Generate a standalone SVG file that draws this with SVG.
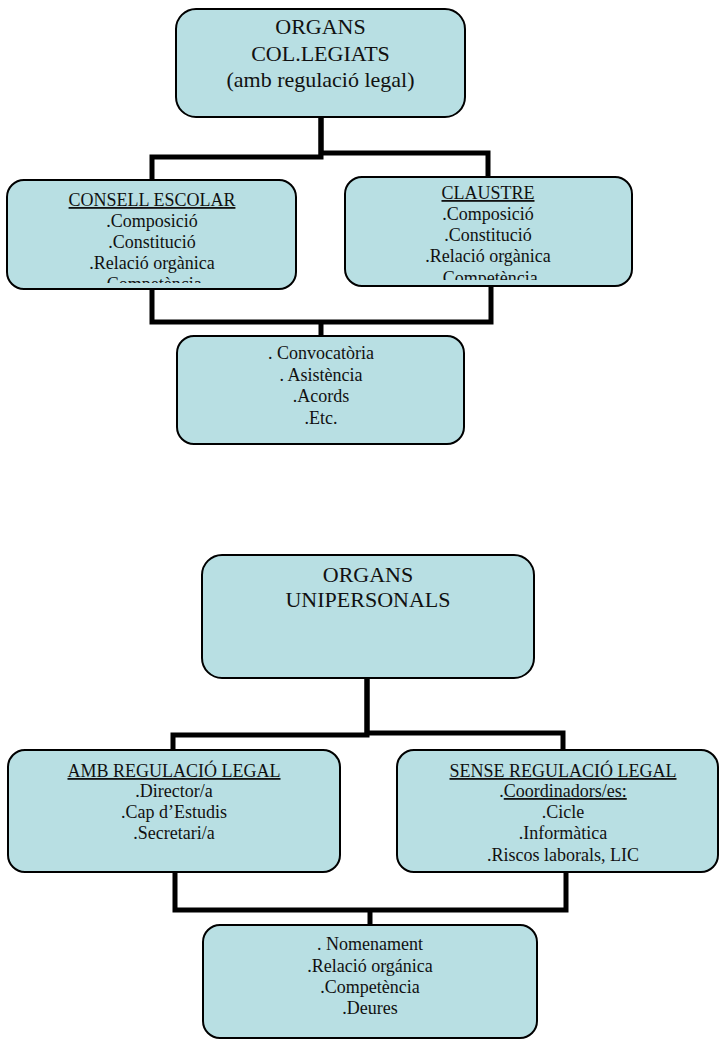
<svg xmlns="http://www.w3.org/2000/svg" width="721" height="1044" viewBox="0 0 721 1044">
<style>
.box{fill:#b8dfe3;stroke:#000;stroke-width:2}
.t{font-family:"Liberation Serif","Times New Roman",serif;font-size:18px;fill:#111;text-anchor:middle}
.big{font-size:22px}
.u{text-decoration:underline;text-decoration-thickness:1.6px}
.c{fill:none;stroke:#000;stroke-width:5;stroke-linejoin:miter;stroke-linecap:butt}
</style>
<defs>
<clipPath id="clipA"><rect x="7" y="180" width="289" height="103"/></clipPath>
<clipPath id="clipB"><rect x="345" y="177" width="287" height="103"/></clipPath>
</defs>
<rect width="721" height="1044" fill="#fff"/>
<g id="connectors">
<polyline class="c" points="321,117 321,157 152,157 152,180"/>
<polyline class="c" points="321,117 321,153 488,153 488,177"/>
<polyline class="c" points="152,289 152,322 491,322 491,286"/>
<polyline class="c" points="321,322 321,336"/>
<polyline class="c" points="367,678 367,735 173,735 173,750"/>
<polyline class="c" points="367,678 367,733 563,733 563,750"/>
<polyline class="c" points="175,872 175,910 566,910 566,872"/>
<polyline class="c" points="370,910 370,925"/>
</g>
<g id="organs-colegiats">
<rect class="box" x="176" y="9" width="289" height="108" rx="20"/>
<text class="t big" x="320.5" y="34">ORGANS</text>
<text class="t big" x="320.5" y="60.5">COL.LEGIATS</text>
<text class="t big" x="320.5" y="87">(amb regulació legal)</text>
</g>
<g id="consell-escolar">
<rect class="box" x="7" y="180" width="289" height="109" rx="17"/>
<g clip-path="url(#clipA)">
<text class="t u" x="152" y="206">CONSELL ESCOLAR</text>
<text class="t" x="152" y="227">.Composició</text>
<text class="t" x="152" y="248">.Constitució</text>
<text class="t" x="152" y="269">.Relació orgànica</text>
<text class="t" x="152" y="290">.Competència</text>
</g>
</g>
<g id="claustre">
<rect class="box" x="345" y="177" width="287" height="109" rx="17"/>
<g clip-path="url(#clipB)">
<text class="t u" x="488" y="199">CLAUSTRE</text>
<text class="t" x="488" y="220">.Composició</text>
<text class="t" x="488" y="241">.Constitució</text>
<text class="t" x="488" y="262">.Relació orgànica</text>
<text class="t" x="488" y="284">.Competència</text>
</g>
</g>
<g id="procediment">
<rect class="box" x="177" y="336" width="287" height="108" rx="17"/>
<text class="t" x="321" y="359">. Convocatòria</text>
<text class="t" x="321" y="381">. Asistència</text>
<text class="t" x="321" y="402">.Acords</text>
<text class="t" x="321" y="424">.Etc.</text>
</g>
<g id="organs-unipersonals">
<rect class="box" x="202" y="555" width="332" height="123" rx="20"/>
<text class="t big" x="368" y="582">ORGANS</text>
<text class="t big" x="368" y="607">UNIPERSONALS</text>
</g>
<g id="amb-regulacio">
<rect class="box" x="8" y="750" width="332" height="122" rx="17"/>
<text class="t u" x="174" y="777">AMB REGULACIÓ LEGAL</text>
<text class="t" x="174" y="797">.Director/a</text>
<text class="t" x="174" y="818">.Cap d’Estudis</text>
<text class="t" x="174" y="839">.Secretari/a</text>
</g>
<g id="sense-regulacio">
<rect class="box" x="397" y="750" width="321" height="122" rx="17"/>
<text class="t u" x="563" y="777">SENSE REGULACIÓ LEGAL</text>
<text class="t" x="563" y="797">.<tspan class="u">Coordinadors/es:</tspan></text>
<text class="t" x="563" y="818">.Cicle</text>
<text class="t" x="563" y="839">.Informàtica</text>
<text class="t" x="563" y="861">.Riscos laborals, LIC</text>
</g>
<g id="nomenament">
<rect class="box" x="203" y="925" width="334" height="113" rx="17"/>
<text class="t" x="370" y="950">. Nomenament</text>
<text class="t" x="370" y="972">.Relació orgánica</text>
<text class="t" x="370" y="993">.Competència</text>
<text class="t" x="370" y="1014">.Deures</text>
</g>
</svg>
